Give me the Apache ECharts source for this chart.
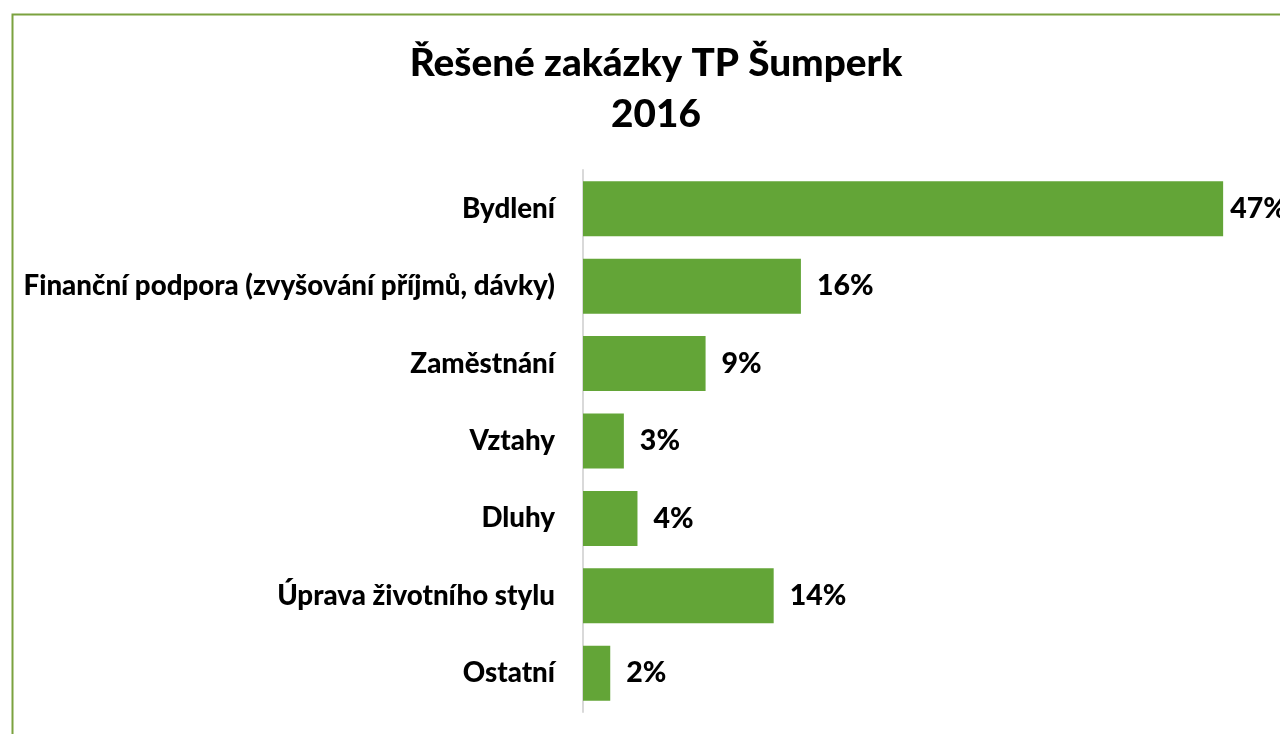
<!DOCTYPE html>
<html>
<head>
<meta charset="utf-8">
<script src="https://cdn.jsdelivr.net/npm/echarts@6/dist/echarts.min.js"></script>
<style>
  html, body { margin: 0; padding: 0; background: #ffffff; }
  #chart { width: 1280px; height: 734px; }
</style>
</head>
<body>
<div id="chart"></div>
<script>
// categories top to bottom, values in percent
var categories = ['Bydlení', 'Finanční podpora (zvyšování příjmů, dávky)', 'Zaměstnání', 'Vztahy', 'Dluhy', 'Úprava životního stylu', 'Ostatní'];
var values = [47, 16, 9, 3, 4, 14, 2];
var titleLines = ['Řešené zakázky TP Šumperk', '2016'];

function renderChart(chartDivId) {
    var chart = echarts.init(document.getElementById(chartDivId));
    var font = 'Lato, "Open Sans", sans-serif';

    // first label sits closer to its bar (as in the original)
    var data = values.map(function (v, i) {
        var item = { value: v };
        if (i === 0) {
            item.label = { distance: 7 };
        }
        return item;
    });

    var options = {
        animation: false,
        backgroundColor: '#ffffff',
        title: {
            text: titleLines.join('\n'),
            left: 651,
            top: 33,
            textAlign: 'center',
            textStyle: {
                fontFamily: font,
                fontWeight: 900,
                fontSize: 38.7,
                lineHeight: 51,
                color: '#000000'
            }
        },
        graphic: [
            {
                type: 'rect',
                left: 10,
                top: 12,
                shape: { width: 1300, height: 760 },
                style: { fill: 'none', stroke: '#7ba23f', lineWidth: 2 },
                z: -1
            }
        ],
        grid: {
            left: 583,
            right: 16,
            top: 170,
            bottom: 22
        },
        xAxis: {
            type: 'value',
            min: 0,
            max: 50,
            show: false
        },
        yAxis: {
            type: 'category',
            inverse: true,
            data: categories,
            axisLine: { show: true, lineStyle: { color: '#d9d9d9', width: 2 } },
            axisTick: { show: false },
            axisLabel: {
                margin: 28,
                padding: [5, 0, 0, 0],
                fontFamily: font,
                fontWeight: 900,
                fontSize: 27.7,
                color: '#000000'
            }
        },
        series: [
            {
                type: 'bar',
                data: data,
                barCategoryGap: '29%',
                itemStyle: { color: '#63a537' },
                label: {
                    show: true,
                    position: 'right',
                    distance: 16,
                    padding: [6, 0, 0, 0],
                    formatter: '{c}%',
                    fontFamily: font,
                    fontWeight: 900,
                    fontSize: 28.5,
                    color: '#000000'
                }
            }
        ]
    };

    chart.setOption(options);
}

renderChart('chart');
</script>
</body>
</html>
